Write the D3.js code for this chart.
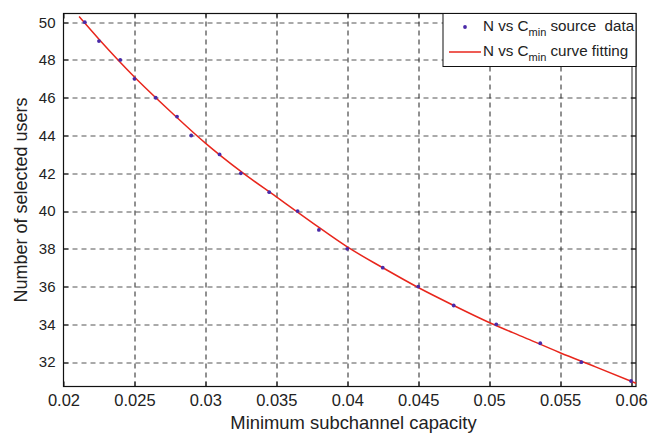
<!DOCTYPE html>
<html>
<head>
<meta charset="utf-8">
<script src="https://cdn.jsdelivr.net/npm/d3@7/dist/d3.min.js"></script>
<style>
  body { margin: 0; background: #fff; }
  svg { display: block; font-family: "Liberation Sans", Arial, sans-serif; }
</style>
</head>
<body>
<svg id="chart" width="661" height="433"></svg>
<script>
// source data points (capacity, users)
const capacity = [0.0215, 0.0225, 0.024, 0.025, 0.0265, 0.028, 0.029, 0.031, 0.0325, 0.0345,
                  0.0365, 0.038, 0.040, 0.0425, 0.045, 0.0475, 0.0505, 0.0536, 0.0565, 0.060];
const users = [50, 49, 48, 47, 46, 45, 44, 43, 42, 41,
               40, 39, 38, 37, 36, 35, 34, 33, 32, 31];

// fitted curve
const fitX = [0.0211, 0.0225, 0.025, 0.0275, 0.03, 0.0325, 0.035, 0.0375, 0.04,
              0.0425, 0.045, 0.0475, 0.05, 0.0525, 0.055, 0.0575, 0.06035];
const fitY = [50.3, 49.1, 47.1, 45.3, 43.6, 42.1, 40.75, 39.4, 38.1,
              37.0, 35.95, 35.0, 34.1, 33.3, 32.5, 31.75, 30.88];

const xTicks = [0.02, 0.025, 0.03, 0.035, 0.04, 0.045, 0.05, 0.055, 0.06];
const yTicks = [32, 34, 36, 38, 40, 42, 44, 46, 48, 50];

const svg = d3.select("#chart");
const width = +svg.attr("width");
const height = +svg.attr("height");
const margin = { top: 13.5, right: 25, bottom: 46.5, left: 63.5 };
const innerWidth = width - margin.left - margin.right;
const innerHeight = height - margin.top - margin.bottom;

const xScale = d3.scaleLinear().domain([0.02, 0.06035]).range([0, innerWidth]);
const yScale = d3.scaleLinear().domain([30.71, 50.46]).range([innerHeight, 0]);

const g = svg.append("g").attr("transform", `translate(${margin.left},${margin.top})`);
const px = v => Math.round(v) + 0.5;

// grid
g.append("g").selectAll("line").data(yTicks).enter().append("line")
  .attr("x1", 0).attr("x2", innerWidth)
  .attr("y1", d => px(yScale(d))).attr("y2", d => px(yScale(d)))
  .attr("stroke", "#555").attr("stroke-width", 1).attr("stroke-dasharray", "5,4");

g.append("g").selectAll("line").data(xTicks.slice(1)).enter().append("line")
  .attr("x1", d => px(xScale(d))).attr("x2", d => px(xScale(d)))
  .attr("y1", innerHeight).attr("y2", 0)
  .attr("stroke", "#222").attr("stroke-width", 1)
  .attr("stroke-dasharray", d => d === 0.06 ? null : "5,4");

// inside tick marks, all four sides
const tk = 5;
const ticks = g.append("g").attr("stroke", "#111").attr("stroke-width", 1);
xTicks.forEach(d => {
  ticks.append("line").attr("x1", px(xScale(d))).attr("x2", px(xScale(d)))
    .attr("y1", innerHeight).attr("y2", innerHeight - tk);
  ticks.append("line").attr("x1", px(xScale(d))).attr("x2", px(xScale(d)))
    .attr("y1", 0).attr("y2", tk);
});
yTicks.forEach(d => {
  ticks.append("line").attr("y1", px(yScale(d))).attr("y2", px(yScale(d)))
    .attr("x1", 0).attr("x2", tk);
  ticks.append("line").attr("y1", px(yScale(d))).attr("y2", px(yScale(d)))
    .attr("x1", innerWidth).attr("x2", innerWidth - tk);
});

// axes
const xAxis = d3.axisBottom(xScale).tickValues(xTicks).tickFormat(d3.format("")).tickSize(0).tickPadding(8);
const yAxis = d3.axisLeft(yScale).tickValues(yTicks).tickSize(0).tickPadding(8);

const xAxisG = g.append("g").attr("transform", `translate(0,${innerHeight})`).call(xAxis);
const yAxisG = g.append("g").call(yAxis);
[[xAxisG, 16.5], [yAxisG, 15]].forEach(([a, fs]) => {
  a.select(".domain").remove();
  a.selectAll("text").attr("font-size", fs).attr("fill", "#222")
    .style("font-family", '"Liberation Sans", Arial, sans-serif');
});

// frame
g.append("rect").attr("x", 0).attr("y", 0).attr("width", innerWidth).attr("height", innerHeight)
  .attr("fill", "none").attr("stroke", "#111").attr("stroke-width", 1.2);

// curve
const fit = fitX.map((x, i) => ({ x: x, y: fitY[i] }));
g.append("path").datum(fit)
  .attr("d", d3.line().x(d => xScale(d.x)).y(d => yScale(d.y)).curve(d3.curveMonotoneX))
  .attr("fill", "none").attr("stroke", "#e8261c").attr("stroke-width", 1.5);

// points
const pts = capacity.map((x, i) => ({ x: x, y: users[i] }));
g.append("g").selectAll("circle").data(pts).enter().append("circle")
  .attr("cx", d => xScale(d.x)).attr("cy", d => yScale(d.y)).attr("r", 1.9)
  .attr("fill", "#4a2aa8");

// axis labels
svg.append("text")
  .attr("x", 353.5).attr("y", 428.5)
  .attr("text-anchor", "middle").attr("font-size", 18.4).attr("fill", "#222")
  .text("Minimum subchannel capacity");

svg.append("text")
  .attr("transform", `translate(27,${margin.top + innerHeight / 2}) rotate(-90)`)
  .attr("text-anchor", "middle").attr("font-size", 18).attr("fill", "#222")
  .text("Number of selected users");

// legend
const legW = 193, legH = 53;
const leg = svg.append("g").attr("transform", `translate(${margin.left + innerWidth - legW},${margin.top})`);
leg.append("rect").attr("width", legW).attr("height", legH)
  .attr("fill", "#fff").attr("stroke", "#111").attr("stroke-width", 1);

leg.append("circle").attr("cx", 22).attr("cy", 13.5).attr("r", 1.9).attr("fill", "#4a2aa8");
leg.append("line").attr("x1", 6).attr("x2", 38).attr("y1", 38.5).attr("y2", 38.5)
  .attr("stroke", "#e8261c").attr("stroke-width", 1.5);

const legendRows = [
  { y: 17.5, after: " source  data" },
  { y: 42.5, after: " curve fitting" }
];
legendRows.forEach(r => {
  const t = leg.append("text").attr("x", 40).attr("y", r.y)
    .attr("font-size", 15.2).attr("fill", "#222").attr("xml:space", "preserve");
  t.append("tspan").text("N vs C");
  t.append("tspan").attr("dy", 5).attr("font-size", 11).text("min");
  t.append("tspan").attr("dy", -5).text(r.after);
});
</script>
</body>
</html>
